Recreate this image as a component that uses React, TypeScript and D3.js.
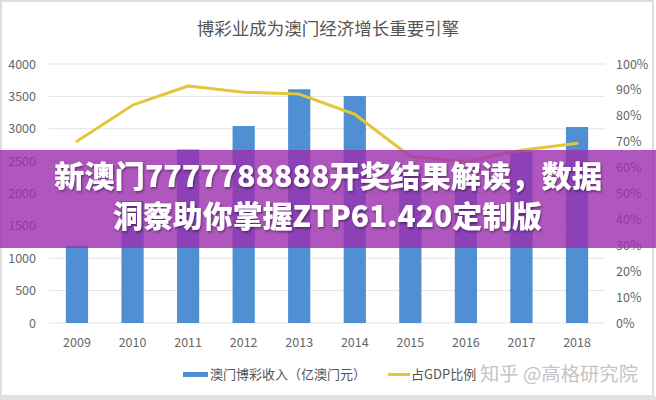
import React from "react";
import * as d3 from "d3";

const years = ["2009", "2010", "2011", "2012", "2013", "2014", "2015", "2016", "2017", "2018"];
const revenue = [1190, 1884, 2680, 3042, 3610, 3505, 2318, 2232, 2645, 3027];
const gdpRatio = [70.2, 84.1, 91.5, 89.1, 88.4, 80.6, 64.3, 62.4, 66.7, 69.4];
const leftTicks = [0, 500, 1000, 1500, 2000, 2500, 3000, 3500, 4000];
const rightTicks = [0, 10, 20, 30, 40, 50, 60, 70, 80, 90, 100];
const title = "博彩业成为澳门经济增长重要引擎";
const legendBar = "澳门博彩收入（亿澳门元）";
const legendLine = "占GDP比例";
const watermark = "知乎 @高格研究院";
const bannerLine1 = "新澳门7777788888开奖结果解读，数据";
const bannerLine2 = "洞察助你掌握ZTP61.420定制版";

const W = 656;
const H = 400;
const FONT = "'Noto Sans CJK SC', 'Noto Sans', sans-serif";

export default function App() {
  const x = d3.scaleBand<string>().domain(years).range([49.2, 604.8]).paddingInner(0.6).paddingOuter(0.3);
  const yL = d3.scaleLinear().domain([0, 4000]).range([323, 64]);
  const yR = d3.scaleLinear().domain([0, 100]).range([323, 64]);
  const cx = (y: string) => (x(y) as number) + x.bandwidth() / 2;
  const line = d3
    .line<number>()
    .x((_, i) => cx(years[i]))
    .y((d) => yR(d))
    .curve(d3.curveLinear);

  return (
    <svg width={W} height={H} style={{ position: "absolute", left: 0, top: 0 }} fontFamily={FONT}>
      <defs>
        <filter id="sh" x="-10%" y="-30%" width="120%" height="160%">
          <feDropShadow dx="1" dy="1.5" stdDeviation="1.2" floodColor="#000" floodOpacity="0.45" />
        </filter>
      </defs>
      <rect x={0} y={0} width={W} height={H} fill="#fff" />
      <rect x={1} y={1} width={652} height={395} fill="none" stroke="#dedede" strokeWidth={2} />
      <rect x={0} y={396} width={W} height={4} fill="#e2e2e2" />

      <text x={328} y={35} textAnchor="middle" fontSize={17.5} fill="#555">
        {title}
      </text>

      {leftTicks.map((t) => (
        <g key={"g" + t}>
          <line x1={49} x2={605} y1={yL(t)} y2={yL(t)} stroke="#e3e3e3" strokeWidth={1} />
          <text x={36} y={yL(t) + 4.5} textAnchor="end" fontSize={12.5} fill="#666">
            {t}
          </text>
        </g>
      ))}
      {rightTicks.map((t) => (
        <text key={"r" + t} x={616} y={yR(t) + 4.5} textAnchor="start" fontSize={12.5} fill="#666">
          {t + "%"}
        </text>
      ))}

      {years.map((yr, i) => (
        <rect key={"b" + yr} x={x(yr)} y={yL(revenue[i])} width={x.bandwidth()} height={yL(0) - yL(revenue[i])} fill="#4f8fd2" />
      ))}

      <path d={line(gdpRatio) || ""} fill="none" stroke="#e5c63a" strokeWidth={3} strokeLinejoin="round" strokeLinecap="round" />

      {years.map((yr) => (
        <text key={"x" + yr} x={cx(yr)} y={347} textAnchor="middle" fontSize={12.5} fill="#666">
          {yr}
        </text>
      ))}

      <rect x={183} y={372} width={25} height={5} fill="#4f8fd2" />
      <text x={210} y={379} fontSize={13} fill="#555">
        {legendBar}
      </text>
      <line x1={388} x2={410} y1={374.5} y2={374.5} stroke="#e5c63a" strokeWidth={3} />
      <text x={411} y={379} fontSize={13} fill="#555">
        {legendLine}
      </text>
      <text x={480} y={381} fontSize={19} fill="#c4c4c4" textLength={158} lengthAdjust="spacingAndGlyphs">
        {watermark}
      </text>

      <rect x={0} y={150} width={W} height={98} fill="rgb(155,45,175)" opacity={0.8} />
      <g filter="url(#sh)">
        <text x={54} y={187} fontSize={30} fontWeight={900} fill="#fff" textLength={548} lengthAdjust="spacingAndGlyphs">
          {bannerLine1}
        </text>
        <text x={113} y={227} fontSize={30} fontWeight={900} fill="#fff" textLength={429} lengthAdjust="spacingAndGlyphs">
          {bannerLine2}
        </text>
      </g>
    </svg>
  );
}
